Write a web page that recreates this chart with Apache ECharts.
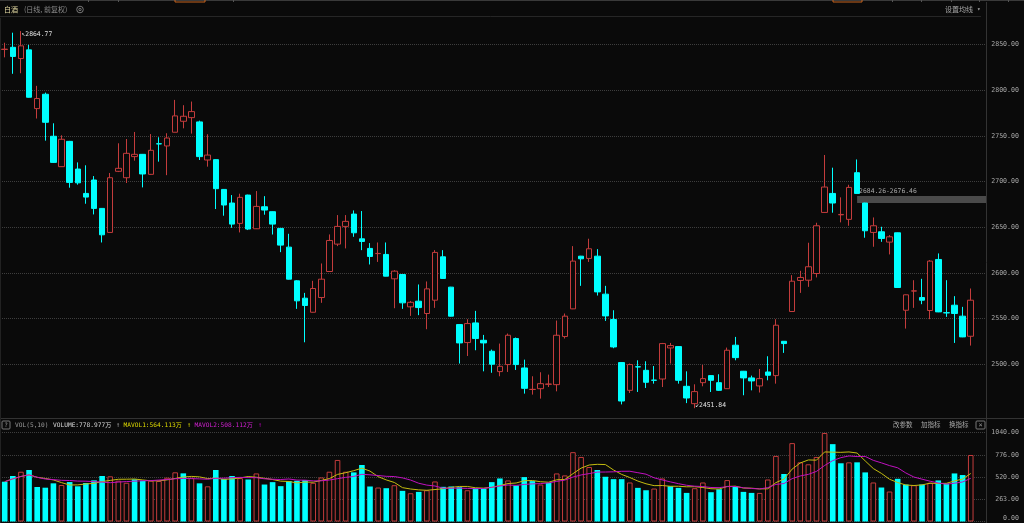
<!DOCTYPE html>
<html>
<head>
<meta charset="utf-8">
<title>白酒 日线</title>
<script src="https://cdn.jsdelivr.net/npm/echarts@6/dist/echarts.min.js"></script>
<style>
  html, body { margin: 0; padding: 0; background: #0a0a0a; }
  #chart { width: 1024px; height: 523px; }
</style>
</head>
<body>
<div id="chart"></div>
<script>
  // 日K数据：开盘 / 收盘 / 最低 / 最高
  var opens = [2844.6, 2847, 2834.7, 2844.2, 2779.9, 2795.6, 2749.6, 2716.3, 2744, 2713.7,
    2687, 2701.7, 2670.6, 2644.3, 2711.2, 2704.2, 2727.3, 2729.8, 2707.9, 2741.4,
    2739, 2754, 2766, 2770, 2765.3, 2723.6, 2724, 2691.4, 2676.5, 2654.2,
    2685.2, 2648.3, 2672.4, 2667, 2648.7, 2628.2, 2591.3, 2572.3, 2556.9, 2573,
    2601.5, 2631.5, 2650.9, 2664.4, 2637.3, 2626.8, 2621.1, 2620.2, 2593.5, 2598.2,
    2562.8, 2569, 2555.5, 2570.1, 2617.6, 2584.4, 2543.4, 2523.7, 2545.2, 2526.2,
    2514.2, 2491.9, 2499.6, 2528.1, 2495.9, 2472.3, 2473.2, 2478.0, 2477.6, 2530.3,
    2560.6, 2618.3, 2615.8, 2618.3, 2576.7, 2548.9, 2501.8, 2471.4, 2497.2, 2493.3,
    2482.6, 2483.8, 2517.8, 2519.3, 2475.8, 2456.8, 2479.8, 2487.5, 2479.8, 2473.2,
    2520.8, 2492.3, 2485, 2476.2, 2491.5, 2487.5, 2525.1, 2557.7, 2591.7, 2592,
    2599.3, 2666.2, 2687, 2663.6, 2658.6, 2709.7, 2676.5, 2644.3, 2645, 2633.7,
    2643.9, 2559.1, 2580.1, 2573, 2558.8, 2614.7, 2556.4, 2564.6, 2552.6, 2530.6]
  var closes = [2845.0, 2837, 2848.6, 2792.3, 2790.9, 2764.9, 2721, 2746.3, 2699.1, 2698.6,
    2683, 2670.6, 2641.7, 2704.2, 2714.5, 2730.9, 2729.8, 2708.3, 2734.2, 2741.2,
    2747.7, 2771.9, 2771.5, 2776.6, 2727.3, 2729, 2692.2, 2674.3, 2653.4, 2682.7,
    2648, 2672.8, 2668.8, 2653.4, 2630.4, 2593.1, 2569.4, 2564.3, 2582.9, 2593.1,
    2635.5, 2650.9, 2656.4, 2643.9, 2634.4, 2618, 2621.3, 2596.4, 2601.9, 2567.2,
    2567.8, 2562, 2582.5, 2622.4, 2593.9, 2552.6, 2523.3, 2544.5, 2528.1, 2523.3,
    2500, 2497.7, 2531.7, 2499.6, 2473.6, 2472.5, 2478.7, 2478.3, 2531.7, 2552.6,
    2612.9, 2615.4, 2626.4, 2579.2, 2552.9, 2518.9, 2459.7, 2499.6, 2497, 2480.2,
    2482.4, 2522.6, 2520.4, 2482.4, 2463, 2470, 2484.2, 2482.4, 2471.4, 2515.3,
    2507.2, 2485, 2481.7, 2484.2, 2487.9, 2542.7, 2522.6, 2590.9, 2595, 2606.7,
    2651.6, 2694, 2676.5, 2664, 2693.6, 2687, 2646.1, 2651.6, 2637.7, 2639.5,
    2584, 2576, 2580.3, 2570.1, 2612.9, 2557.3, 2556.2, 2555.5, 2529.9, 2570.1]
  var lows = [2836, 2818, 2818.6, 2792, 2769, 2744.8, 2720.5, 2716, 2693.3, 2696.6,
    2675.7, 2664, 2633.3, 2644, 2710.4, 2698.4, 2722.9, 2693.6, 2707.5, 2721.8,
    2707, 2754, 2758.3, 2752.5, 2723.6, 2716.3, 2669.9, 2662.6, 2649.4, 2644.3,
    2646.9, 2648, 2663.7, 2642, 2622.7, 2592.8, 2560.6, 2524, 2556.6, 2567.2,
    2601.2, 2629.3, 2626.8, 2639.5, 2624.9, 2609.2, 2612, 2596.2, 2561.3, 2560.6,
    2552.9, 2553.7, 2538.3, 2561.7, 2593.6, 2552.3, 2500.7, 2509, 2515.3, 2492.2,
    2490.6, 2486.8, 2491.5, 2493.7, 2467.8, 2466.7, 2462.3, 2475, 2470.3, 2528.1,
    2560.3, 2585.8, 2612, 2575.2, 2547.4, 2517.5, 2456, 2468.5, 2469.6, 2474,
    2478.7, 2475, 2500.7, 2478.7, 2457.4, 2451.84, 2475.8, 2469.6, 2470.7, 2473,
    2504.3, 2466, 2471.4, 2469, 2482.4, 2478.7, 2512.4, 2557.4, 2578.1, 2584.7,
    2595, 2666, 2665.9, 2655.3, 2651.6, 2686.7, 2638.5, 2628.6, 2634, 2620.2,
    2583.7, 2539, 2561.7, 2565.7, 2549.3, 2557, 2551.8, 2523.3, 2529.6, 2520.4]
  var highs = [2852, 2863, 2864.77, 2849.7, 2804.8, 2797.4, 2763.8, 2750.7, 2744.5, 2721,
    2717.8, 2706, 2671, 2709.4, 2741.9, 2746.6, 2754.3, 2730.2, 2752, 2748.5,
    2752.9, 2789.4, 2783.6, 2787.6, 2766.7, 2751.8, 2724.3, 2691.8, 2685.2, 2686.7,
    2685.6, 2689.6, 2684, 2667.3, 2649, 2642.8, 2592, 2578.1, 2591.3, 2610.3,
    2642.1, 2663.3, 2663.3, 2668.4, 2667.7, 2632.6, 2633.3, 2633.3, 2603, 2598.5,
    2569.3, 2587.3, 2590.6, 2624.9, 2624.9, 2584.7, 2543.7, 2549.3, 2558.4, 2532.1,
    2516, 2522.6, 2533.6, 2529.2, 2505, 2486.8, 2491.2, 2488.6, 2547.8, 2555.5,
    2629.3, 2618.6, 2637.4, 2626, 2585.8, 2559.1, 2502.1, 2500.7, 2504.3, 2503.2,
    2498, 2523.3, 2523.3, 2519.6, 2492.2, 2478, 2499.3, 2487.8, 2489, 2518.2,
    2529.9, 2492.6, 2487.5, 2494.8, 2508.7, 2549.3, 2525.4, 2597.5, 2602.3, 2633,
    2654.9, 2729.1, 2715.2, 2682.7, 2696.5, 2724.2, 2676.8, 2660.7, 2650.5, 2641.4,
    2644.2, 2576.3, 2592, 2593.5, 2614, 2621.3, 2592, 2574.5, 2562.8, 2582.9]
  // 成交量（万）
  var volumes = [466, 533, 583, 603, 404, 396, 447, 427, 462, 412,
    451, 482, 533, 529, 478, 454, 494, 478, 478, 475,
    513, 576, 564, 513, 447, 412, 603, 497, 533, 508,
    492, 563, 433, 461, 414, 473, 477, 485, 453, 516,
    583, 721, 583, 575, 662, 410, 398, 390, 425, 359,
    331, 347, 366, 469, 406, 410, 402, 366, 390, 386,
    461, 504, 481, 422, 520, 473, 433, 453, 563, 540,
    812, 756, 638, 603, 524, 496, 496, 457, 394, 366,
    386, 504, 414, 394, 335, 390, 457, 343, 378, 485,
    406, 347, 335, 335, 492, 768, 556, 918, 693, 670,
    756, 1036, 906, 682, 693, 693, 575, 457, 398, 351,
    500, 433, 425, 433, 453, 481, 445, 563, 544, 778.977]
  var firstPrevClose = 2846          // 第一根K线前一日收盘
  var zoneStart = 105                // 区间框起点（K线序号）
  var zoneRange = [2684.26, 2676.46] // 区间框上下沿
  var volTickLabels = ['0.00', '263.00', '520.00', '776.00', '1040.00']
  var legendValues = { volume: '778.977', mavol1: '564.113', mavol2: '508.112' }

  var UP = '#c43c3c'
  var DOWN = '#00ffff'
  var BG = '#0a0a0a'
  var MONO = '"DejaVu Sans Mono", "Noto Sans CJK SC", monospace'
  var CJK = '"Noto Sans CJK SC", sans-serif'

  var kData = opens.map(function (o, i) {
    return [i, o, closes[i], lows[i], highs[i]]
  })

  // 量柱颜色按收盘与前一日收盘比较
  var volData = volumes.map(function (v, i) {
    var prev = i === 0 ? firstPrevClose : closes[i - 1]
    var up = closes[i] > prev
    return {
      value: [i, v],
      itemStyle: up ? { color: BG, borderColor: UP, borderWidth: 1 } : { color: DOWN, borderWidth: 0 }
    }
  })

  function movingAvg(n) {
    return volumes.map(function (v, i) {
      var s = 0, c = 0
      for (var k = Math.max(0, i - n + 1); k <= i; k++) { s += volumes[k]; c++ }
      return [i, s / c]
    })
  }

  function txt(x, y, s, color, size, family, align) {
    return {
      type: 'text', x: x, y: y, silent: true, z: 10,
      style: { text: s, fill: color, fontSize: size, fontFamily: family, verticalAlign: 'middle', align: align || 'left' }
    }
  }
  function line(x1, y1, x2, y2, color) {
    return { type: 'line', silent: true, z: 5, shape: { x1: x1, y1: y1, x2: x2, y2: y2 }, style: { stroke: color, lineWidth: 1 } }
  }
  function box(x, y, w, h, color) {
    return { type: 'rect', silent: true, z: 10, shape: { x: x, y: y, width: w, height: h, r: 1 }, style: { fill: 'none', stroke: color, lineWidth: 1 } }
  }

  var xRange = { min: -0.58, max: 120.88 }

  var chart = echarts.init(document.getElementById('chart'))
  chart.setOption({
    backgroundColor: BG,
    animation: false,
    grid: [
      { left: 0, right: 38, top: 20, height: 398, outerBoundsMode: 'none' },
      { left: 0, right: 38, top: 44.6, height: 319.7, outerBoundsMode: 'none' },
      { left: 0, right: 38, top: 432.7, height: 88.8, outerBoundsMode: 'none' }
    ],
    xAxis: [
      { type: 'value', gridIndex: 0, min: xRange.min, max: xRange.max, show: false },
      { type: 'value', gridIndex: 1, min: 0, max: 1, show: false },
      { type: 'value', gridIndex: 2, min: xRange.min, max: xRange.max, show: false }
    ],
    yAxis: [
      { type: 'value', gridIndex: 0, min: 2441.1, max: 2876.9, show: false },
      {
        type: 'value', gridIndex: 1, position: 'right', min: 2500, max: 2850, interval: 50,
        axisLine: { show: false }, axisTick: { show: false },
        splitLine: { lineStyle: { color: '#3e3e3e', type: 'dotted', width: 1 } },
        axisLabel: {
          color: '#a8a8a8', fontSize: 6.6, fontFamily: MONO, align: 'right', margin: 33,
          formatter: function (v) { return v.toFixed(2) }
        }
      },
      {
        type: 'value', gridIndex: 2, position: 'right', min: 0, max: 1040, interval: 260,
        axisLine: { show: false }, axisTick: { show: false },
        splitLine: { lineStyle: { color: '#3e3e3e', type: 'dotted', width: 1 } },
        axisLabel: {
          color: '#a8a8a8', fontSize: 6.6, fontFamily: MONO, align: 'right', margin: 33,
          formatter: function (v) {
            var s = volTickLabels[Math.round(v / 260)]
            return v === 0 ? '{b|' + s + '}' : s
          },
          rich: { b: { color: '#a8a8a8', fontSize: 6.6, fontFamily: MONO, padding: [0, 0, 7, 0] } }
        }
      }
    ],
    series: [
      {
        name: '白酒',
        type: 'candlestick',
        xAxisIndex: 0, yAxisIndex: 0,
        barWidth: 6,
        data: kData,
        itemStyle: { color: BG, color0: DOWN, borderColor: UP, borderColor0: DOWN, borderWidth: 1 },
        markPoint: {
          symbol: 'circle', symbolSize: 1,
          itemStyle: { color: 'rgba(0,0,0,0)' },
          label: { show: true, color: '#e0e0e0', fontSize: 6.4, fontFamily: MONO, position: 'right', distance: 0 },
          data: [
            { type: 'max', valueDim: 'highest', label: { formatter: '↖{c}', offset: [0, 3] } },
            { type: 'min', valueDim: 'lowest', label: { formatter: '↙{c}', offset: [0, -3] } }
          ]
        },
        markArea: {
          silent: true,
          itemStyle: { color: '#4a4a4a', opacity: 1 },
          label: {
            show: true, color: '#a8a8a8', fontSize: 6.4, fontFamily: MONO, position: [2, -8],
            formatter: zoneRange[0].toFixed(2) + '-' + zoneRange[1].toFixed(2)
          },
          data: [[{ coord: [zoneStart, zoneRange[0]] }, { coord: [xRange.max, zoneRange[1]] }]]
        }
      },
      {
        name: 'VOLUME',
        type: 'bar',
        xAxisIndex: 2, yAxisIndex: 2,
        barWidth: 5.6,
        data: volData
      },
      {
        name: 'MAVOL1', type: 'line', xAxisIndex: 2, yAxisIndex: 2,
        data: movingAvg(5), symbol: 'none', z: 4,
        lineStyle: { color: '#c4bc10', width: 1 }
      },
      {
        name: 'MAVOL2', type: 'line', xAxisIndex: 2, yAxisIndex: 2,
        data: movingAvg(10), symbol: 'none', z: 4,
        lineStyle: { color: '#c010c0', width: 1 }
      }
    ],
    graphic: [
      // 顶部标签栏边线
      line(0, 0.5, 1024, 0.5, '#3a3a3a'),
      { type: 'rect', silent: true, z: 6, shape: { x: 175, y: -1, width: 30, height: 3 }, style: { fill: 'none', stroke: '#c8641e', lineWidth: 1 } },
      { type: 'rect', silent: true, z: 6, shape: { x: 833, y: -1, width: 29, height: 3 }, style: { fill: 'none', stroke: '#c8641e', lineWidth: 1 } },
      line(88.5, 0, 88.5, 2, '#555'), line(118.5, 0, 118.5, 2, '#555'), line(233.5, 0, 233.5, 2, '#555'),
      line(892.5, 0, 892.5, 2, '#555'), line(921.5, 0, 921.5, 2, '#555'), line(951.5, 0, 951.5, 2, '#555'),
      line(979.5, 0, 979.5, 2, '#555'), line(1008.5, 0, 1008.5, 2, '#555'),
      line(0, 16.5, 981, 16.5, '#262626'),
      line(986.5, 2, 986.5, 523, '#333'),
      line(0, 418.5, 1024, 418.5, '#333'),
      line(0.5, 18, 0.5, 523, '#222'),
      // 标题
      txt(4, 9.5, '白酒', '#e6dca4', 7, CJK),
      txt(24, 9.5, '(日线, 前复权)', '#8c8c8c', 7, CJK),
      { type: 'circle', silent: true, z: 10, shape: { cx: 80, cy: 9.5, r: 3.3 }, style: { fill: 'none', stroke: '#777', lineWidth: 1 } },
      { type: 'circle', silent: true, z: 10, shape: { cx: 80, cy: 9.5, r: 1.2 }, style: { fill: 'none', stroke: '#777', lineWidth: 1 } },
      txt(945, 9.5, '设置均线', '#a8a8a8', 7, CJK),
      txt(977, 9.5, '▾', '#a8a8a8', 6, MONO),
      // 成交量指标栏
      box(2, 421, 8, 8, '#777'),
      txt(6, 425.3, '?', '#999', 6, MONO, 'center'),
      txt(15, 425, 'VOL(5,10)', '#9a9a9a', 6.2, MONO),
      txt(53, 425, 'VOLUME:' + legendValues.volume + '万', '#d8d8d8', 6.2, MONO),
      txt(116, 425, '↑', '#9a9a9a', 7, MONO),
      txt(123.5, 425, 'MAVOL1:' + legendValues.mavol1 + '万', '#dcd800', 6.2, MONO),
      txt(187, 425, '↑', '#c8c400', 7, MONO),
      txt(194.5, 425, 'MAVOL2:' + legendValues.mavol2 + '万', '#d020d0', 6.2, MONO),
      txt(258, 425, '↑', '#a000a0', 7, MONO),
      txt(893, 425, '改参数', '#a8a8a8', 6.5, CJK),
      txt(921, 425, '加指标', '#a8a8a8', 6.5, CJK),
      txt(949, 425, '换指标', '#a8a8a8', 6.5, CJK),
      box(976, 421, 9, 8, '#777'),
      txt(980.5, 425, '×', '#999', 7, MONO, 'center')
    ]
  })
</script>
</body>
</html>
